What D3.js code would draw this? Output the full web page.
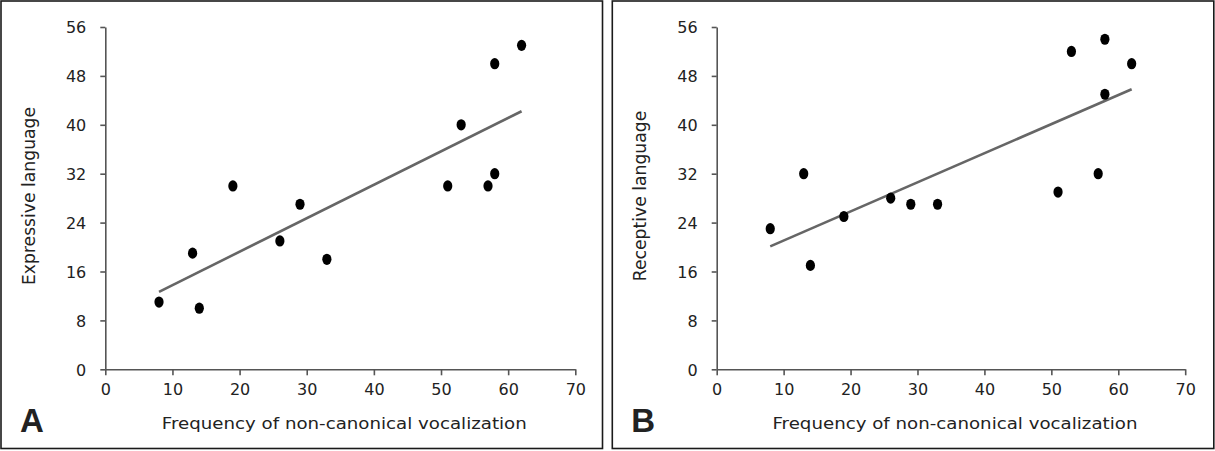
<!DOCTYPE html>
<html><head><meta charset="utf-8">
<script src="https://cdn.jsdelivr.net/npm/d3@7"></script>
<style>
html,body{margin:0;padding:0;background:#fff;}
svg{display:block;}
text{font-family:"DejaVu Sans",sans-serif;fill:#222;}
</style></head>
<body>
<svg id="chart" width="1215" height="451"></svg>
<script>
// Data
const frequency = [8, 13, 14, 19, 26, 29, 33, 51, 53, 57, 58, 58, 62];
const expressive = [11, 19, 10, 30, 21, 27, 18, 30, 40, 30, 32, 50, 53];
const receptive = [23, 32, 17, 25, 28, 27, 27, 29, 52, 32, 54, 45, 50];
const xTicks = [0, 10, 20, 30, 40, 50, 60, 70];
const yTicks = [0, 8, 16, 24, 32, 40, 48, 56];
const xTitle = "Frequency of non-canonical vocalization";
const panels = [
  {label: "A", yTitle: "Expressive language", values: expressive},
  {label: "B", yTitle: "Receptive language", values: receptive}
];

const svg = d3.select("#chart");
const layout = [
  {box: [1, 1, 601.5, 447.5], x0: 105.3, x1: 575.3},
  {box: [612.3, 1, 601.5, 447.5], x0: 716.7, x1: 1185.2}
];
const yTop = 27, yBot = 369.3;

function fit(xs, ys) {
  const mx = d3.mean(xs), my = d3.mean(ys);
  let sxy = 0, sxx = 0;
  xs.forEach((x, i) => { sxy += (x - mx) * (ys[i] - my); sxx += (x - mx) * (x - mx); });
  const b = sxy / sxx;
  return {b, a: my - b * mx};
}

panels.forEach((p, k) => {
  const L = layout[k];
  const g = svg.append("g");
  g.append("rect").attr("x", L.box[0]).attr("y", L.box[1]).attr("width", L.box[2]).attr("height", L.box[3])
    .attr("fill", "none").attr("stroke", "#1a1a1a").attr("stroke-width", 1.6);

  const x = d3.scaleLinear().domain([0, 70]).range([L.x0, L.x1]);
  const y = d3.scaleLinear().domain([0, 56]).range([yBot, yTop]);

  const xAxis = g.append("g").attr("transform", `translate(0,${yBot})`)
    .call(d3.axisBottom(x).tickValues(xTicks).tickSize(6).tickPadding(8).tickSizeOuter(0));
  const yAxis = g.append("g").attr("transform", `translate(${L.x0},0)`)
    .call(d3.axisLeft(y).tickValues(yTicks).tickSize(5).tickPadding(14).tickSizeOuter(0));
  [xAxis, yAxis].forEach(a => {
    a.select(".domain").attr("stroke", "#555").attr("stroke-width", 1.6);
    a.selectAll(".tick line").attr("stroke", "#555").attr("stroke-width", 1.6);
    a.selectAll(".tick text").attr("font-size", 16).attr("fill", "#222")
      .style("font-family", '"DejaVu Sans",sans-serif');
  });
  xAxis.selectAll(".tick text").attr("dy", "0.71em");
  yAxis.selectAll(".tick text").attr("dy", "0.36em");

  // regression line
  const f = fit(frequency, p.values);
  const xr = d3.extent(frequency);
  g.append("line")
    .attr("x1", x(xr[0])).attr("y1", y(f.a + f.b * xr[0]))
    .attr("x2", x(xr[1])).attr("y2", y(f.a + f.b * xr[1]))
    .attr("stroke", "#666").attr("stroke-width", 2.6);

  // points
  g.selectAll("ellipse.pt").data(frequency.map((v, i) => [v, p.values[i]]))
    .join("ellipse").attr("class", "pt")
    .attr("cx", d => x(d[0])).attr("cy", d => y(d[1]))
    .attr("rx", 4.6).attr("ry", 5.6).attr("fill", "#000");

  // titles
  g.append("text").attr("x", (L.x0 + L.x1) / 2 + 4).attr("y", 429)
    .attr("text-anchor", "middle").attr("font-size", 16.5).attr("fill", "#222")
    .attr("textLength", 365).attr("lengthAdjust", "spacingAndGlyphs")
    .text(xTitle);
  g.append("text").attr("transform", `translate(${L.x0 - 70.5},196) rotate(-90)`)
    .attr("text-anchor", "middle").attr("font-size", 17.2).attr("fill", "#222")
    .text(p.yTitle);
  g.append("text").attr("x", L.box[0] + 19).attr("y", 432)
    .style("font-family", '"Liberation Sans",Arial,sans-serif')
    .attr("font-weight", "bold").attr("font-size", 33).attr("fill", "#111")
    .text(p.label);
});
</script>
</body></html>
